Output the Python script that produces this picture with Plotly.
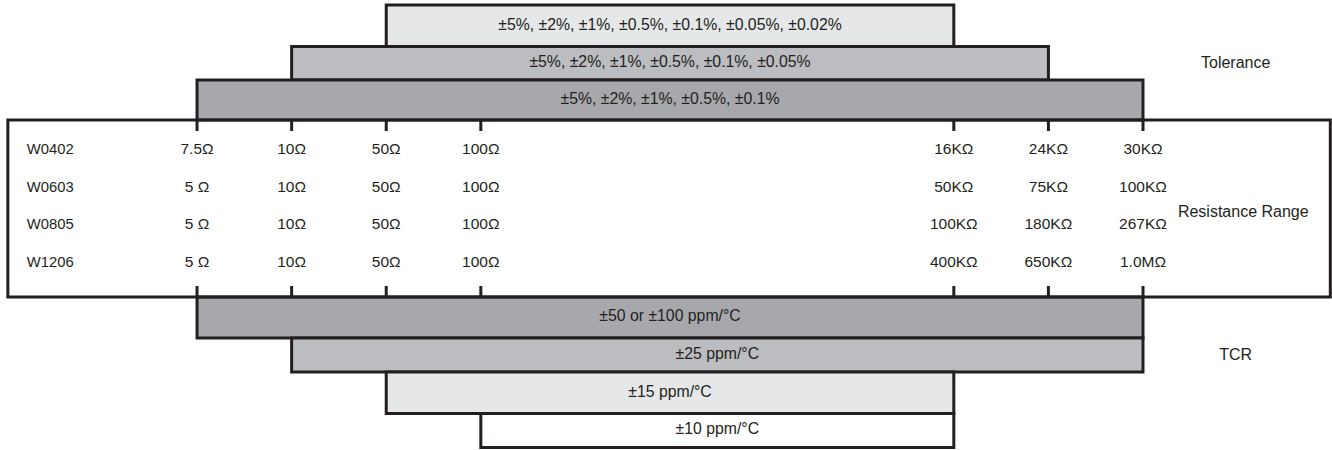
import plotly.graph_objects as go

# ---------------- data ----------------
sizes = ["W0402", "W0603", "W0805", "W1206"]
res_W0402 = ["7.5Ω", "10Ω", "50Ω", "100Ω", "16KΩ", "24KΩ", "30KΩ"]
res_W0603 = ["5 Ω", "10Ω", "50Ω", "100Ω", "50KΩ", "75KΩ", "100KΩ"]
res_W0805 = ["5 Ω", "10Ω", "50Ω", "100Ω", "100KΩ", "180KΩ", "267KΩ"]
res_W1206 = ["5 Ω", "10Ω", "50Ω", "100Ω", "400KΩ", "650KΩ", "1.0MΩ"]

tolerance_labels = ["±5%, ±2%, ±1%, ±0.5%, ±0.1%, ±0.05%, ±0.02%",
                    "±5%, ±2%, ±1%, ±0.5%, ±0.1%, ±0.05%",
                    "±5%, ±2%, ±1%, ±0.5%, ±0.1%"]
tolerance_from = [2, 1, 0]   # index of resistance column where band starts
tolerance_to = [4, 5, 6]     # index of resistance column where band ends

tcr_labels = ["±50 or ±100 ppm/°C", "±25 ppm/°C", "±15 ppm/°C", "±10 ppm/°C"]
tcr_from = [0, 1, 2, 3]
tcr_to = [6, 6, 4, 4]

section_labels = ["Tolerance", "Resistance Range", "TCR"]

# ---------------- layout / style ----------------
COL_SLOT = [0, 1, 2, 3, 8, 9, 10]          # horizontal slot of each resistance column
BOX_LEFT, BOX_RIGHT = -2.0, 11.98
TOL_EDGES = [5, 46.5, 80, 120]             # row edges (px-like units, top-down)
BOX_TOP, BOX_BOTTOM = 120, 297
TCR_EDGES = [297, 338, 372, 413.5, 447.5]
TABLE_ROW_Y = [150, 188, 225, 263]
SIZE_LABEL_X = -1.80
SECTION_X = [10.98, 11.06, 10.98]
SECTION_Y = [64, 213, 356]
TOL_FILLS = ["#e6e7e8", "#bcbdc0", "#a7a8ab"]
TCR_FILLS = ["#a7a8ab", "#bcbdc0", "#e6e7e8", "#ffffff"]
INK = "#231f20"
FONT = "Liberation Sans, Arial, Helvetica, sans-serif"
FS_BAND = 15.8
FS_TABLE = 15.5
FS_SIZE = 14.8
FS_SECTION = 16

fig = go.Figure()


def band_trace(labels, i_from, i_to, edges, fills):
    starts = [COL_SLOT[a] for a in i_from]
    ends = [COL_SLOT[b] for b in i_to]
    centers = [(edges[k] + edges[k + 1]) / 2 for k in range(len(labels))]
    heights = [edges[k + 1] - edges[k] for k in range(len(labels))]
    fig.add_trace(go.Bar(
        orientation="h", base=starts, x=[e - s for s, e in zip(starts, ends)],
        y=centers, width=heights,
        marker=dict(color=fills, line=dict(color=INK, width=3)),
        hoverinfo="skip", showlegend=False))
    fig.add_trace(go.Scatter(
        x=[(s + e) / 2 for s, e in zip(starts, ends)], y=centers,
        mode="text", text=labels, textposition="middle center",
        textfont=dict(family=FONT, size=FS_BAND, color=INK),
        hoverinfo="skip", showlegend=False))


band_trace(tolerance_labels, tolerance_from, tolerance_to, TOL_EDGES, TOL_FILLS)
band_trace(tcr_labels, tcr_from, tcr_to, TCR_EDGES, TCR_FILLS)

# resistance range box
fig.add_shape(type="rect", xref="x", yref="y", x0=BOX_LEFT, x1=BOX_RIGHT,
              y0=BOX_TOP, y1=BOX_BOTTOM, line=dict(color=INK, width=3),
              fillcolor="rgba(0,0,0,0)", layer="above")

# tick marks on top and bottom of box
tx, ty = [], []
for s in COL_SLOT:
    tx += [s, s, None, s, s, None]
    ty += [BOX_TOP, BOX_TOP + 11, None, BOX_BOTTOM - 11, BOX_BOTTOM, None]
fig.add_trace(go.Scatter(x=tx, y=ty, mode="lines", line=dict(color=INK, width=3),
                         hoverinfo="skip", showlegend=False))

# table text
rows = [res_W0402, res_W0603, res_W0805, res_W1206]
for yy, name, vals in zip(TABLE_ROW_Y, sizes, rows):
    fig.add_trace(go.Scatter(x=[SIZE_LABEL_X], y=[yy], mode="text", text=[name],
                             textposition="middle right",
                             textfont=dict(family=FONT, size=FS_SIZE, color=INK),
                             hoverinfo="skip", showlegend=False))
    fig.add_trace(go.Scatter(x=COL_SLOT, y=[yy] * len(vals), mode="text", text=vals,
                             textposition="middle center",
                             textfont=dict(family=FONT, size=FS_TABLE, color=INK),
                             hoverinfo="skip", showlegend=False))

# section labels
fig.add_trace(go.Scatter(x=SECTION_X, y=SECTION_Y, mode="text", text=section_labels,
                         textposition="middle center",
                         textfont=dict(family=FONT, size=FS_SECTION, color=INK),
                         hoverinfo="skip", showlegend=False))

fig.update_layout(
    width=1332, height=450, margin=dict(l=0, r=0, t=0, b=0),
    paper_bgcolor="white", plot_bgcolor="white", barmode="overlay",
    xaxis=dict(range=[-2.083, 11.998], visible=False, fixedrange=True),
    yaxis=dict(range=[450, 0], visible=False, fixedrange=True),
    showlegend=False,
)

fig.write_html("out.html", config={"displayModeBar": False},
               post_script="document.body.style.margin='0';document.body.style.overflow='hidden';")
